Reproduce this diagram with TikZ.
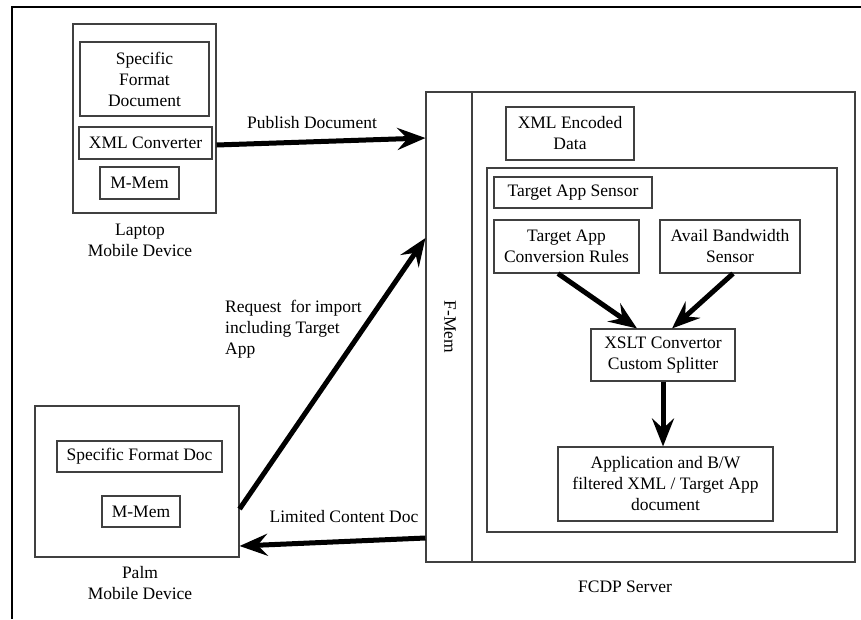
\documentclass[tikz,border=0pt]{standalone}
\usepackage{fontspec}
\setmainfont{Liberation Serif}
\usetikzlibrary{arrows.meta,calc}
\tikzset{
  box/.style={draw=black!75, line width=1.1pt, align=center, inner sep=0pt,
    font=\fontsize{17.5}{21}\selectfont},
  lbl/.style={align=center, inner sep=0pt, font=\fontsize{17.5}{21}\selectfont},
  arr/.style={line width=5pt, -{Stealth[length=28pt 0 0,width=22pt 0 0,inset=10pt 0 0]}},
}
\begin{document}
\begin{tikzpicture}[x=1pt,y=-1pt]
\useasboundingbox (0,0) rectangle (861,619);
\fill[white] (0,0) rectangle (861,619);
% outer frame (partial)
\draw[line width=2pt] (861,7) -- (12,7) -- (12,619);

% laptop
\node[box, minimum width=143pt, minimum height=189pt] (laptop) at (144.5,118.5) {};
\node[box, minimum width=129pt, minimum height=74pt] (sfd) at (144.5,79) {Specific\\Format\\Document};
\node[box, minimum width=133pt, minimum height=32pt] (xmlc) at (145.5,143) {XML Converter};
\node[box, minimum width=79pt, minimum height=32pt] (mmem1) at (139.5,183) {M-Mem};
\node[lbl] (laptoplbl) at (140,240) {Laptop\\Mobile Device};

% palm
\node[box, minimum width=204pt, minimum height=151pt] (palm) at (137,481.5) {};
\node[box, minimum width=165pt, minimum height=31pt] (sfdoc) at (139.5,456.5) {Specific Format Doc};
\node[box, minimum width=78pt, minimum height=31pt] (mmem2) at (141,511.5) {M-Mem};
\node[lbl] (palmlbl) at (140,583) {Palm\\Mobile Device};

% server
\node[box, minimum width=429pt, minimum height=470pt] (server) at (640.5,327) {};
\coordinate (fmtop) at (472,92);
\coordinate (fmbot) at (472,562);
\draw[draw=black!75, line width=1.1pt] (fmtop) -- (fmbot);
\node[lbl, rotate=-90] (fmem) at (450,327) {F-Mem};
\node[lbl] (fcdp) at (625,587) {FCDP Server};
\node[box, minimum width=128pt, minimum height=53pt] (xmled) at (570,133.5) {XML Encoded\\Data};
\node[box, minimum width=350pt, minimum height=364pt] (inner) at (662,350) {};
\node[box, minimum width=158pt, minimum height=31pt] (tas) at (573,192.5) {Target App Sensor};
\node[box, minimum width=145pt, minimum height=53pt] (tacr) at (566.5,246.5) {Target App\\Conversion Rules};
\node[box, minimum width=140pt, minimum height=53pt] (abs) at (730,246.5) {Avail Bandwidth\\Sensor};
\node[box, minimum width=144pt, minimum height=52pt] (xslt) at (663,355) {XSLT Convertor\\Custom Splitter};
\node[box, minimum width=215pt, minimum height=74pt] (app) at (665.5,484) {Application and B/W\\filtered XML / Target App\\document};

% arrows
\draw[arr] (laptop.east |- 0,145) -- (server.west |- 0,138);
\node[lbl] (publbl) at (312,123) {Publish Document};
\draw[arr] (palm.east |- 0,509) -- (server.west |- 0,238);
\node[lbl, align=left, anchor=west] (reqlbl) at (225,329) {Request~~for import\\including Target\\App};
\draw[arr] (server.west |- 0,538) -- (palm.east |- 0,546);
\node[lbl] (limlbl) at (344,517) {Limited Content Doc};

\draw[arr] (tacr.south -| 558,0) -- (xslt.north -| 637,0);
\draw[arr] (abs.south -| 733,0) -- (xslt.north -| 672,0);
\draw[arr] (xslt.south -| 663,0) -- (app.north -| 663,0);
\end{tikzpicture}
\end{document}
